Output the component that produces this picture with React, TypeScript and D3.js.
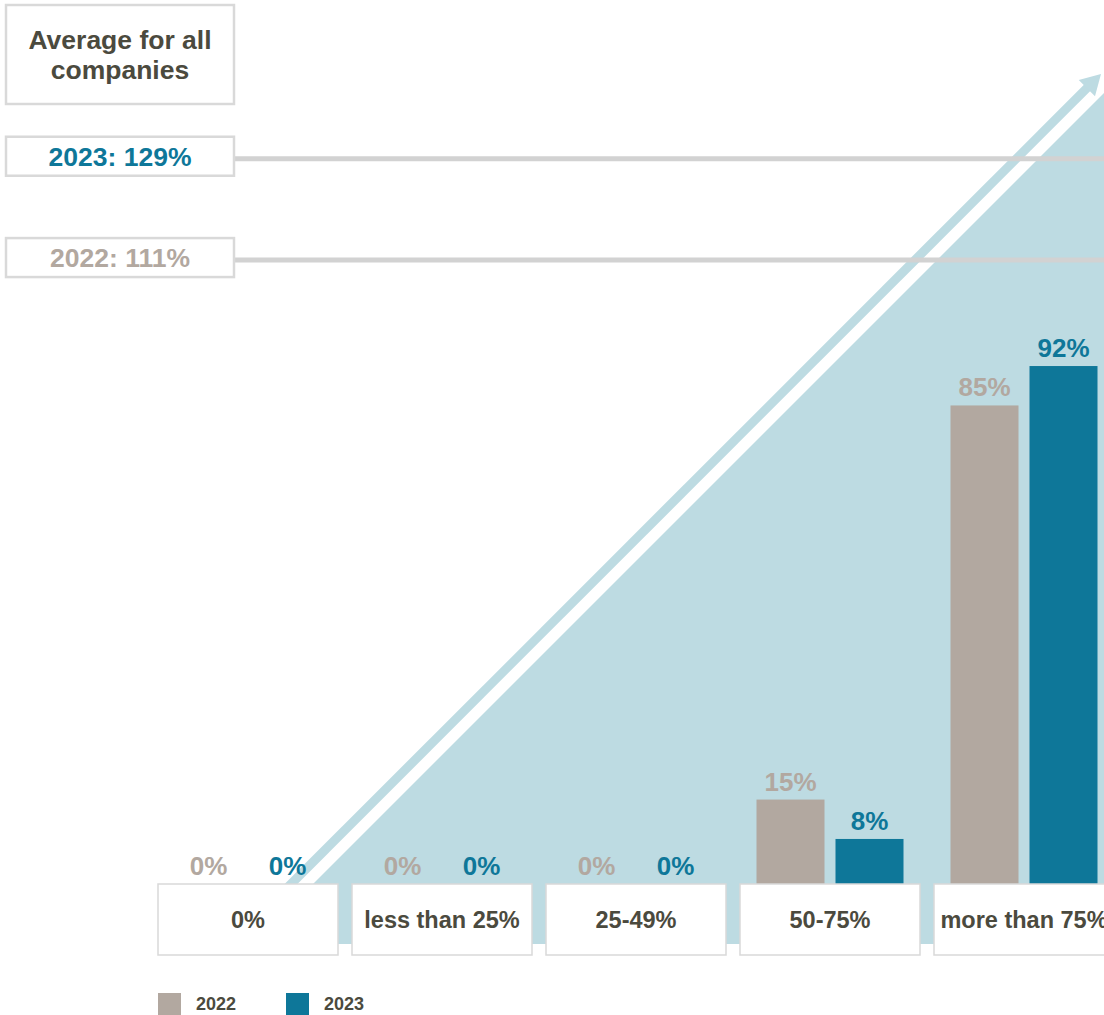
import * as d3 from "d3";

const categories = ["0%", "less than 25%", "25-49%", "50-75%", "more than 75%"];
const years = ["2022", "2023"];
const values2022 = [0, 0, 0, 15, 85];
const values2023 = [0, 0, 0, 8, 92];
const averages = [
  { year: "2023", value: 129 },
  { year: "2022", value: 111 },
];

const W = 1104;
const H = 1015;
const FONT = "'Liberation Sans', Arial, Helvetica, sans-serif";
const DARK = "#4b4a3e";
const GREY = "#b2a8a0";
const TEAL = "#0e7799";
const SKY = "#bddbe2";
const RULE = "#d2d2d2";
const BOX_LINE = "#d9d9d9";

const colorOf: Record<string, string> = { "2022": GREY, "2023": TEAL };

export default function App() {
  const baseY = 884;
  const y = d3.scaleLinear().domain([0, 100]).range([baseY, baseY - 563]);
  const x = d3.scaleBand<string>().domain(categories).range([151, 151 + 194 * categories.length]);
  const inner = d3.scaleBand<string>().domain(years).range([-73.5, 73.5]).paddingInner(11 / 79);
  const center = (c: string) => (x(c) ?? 0) + x.bandwidth() / 2;

  const rows = categories.map((c, i) => ({ cat: c, vals: { "2022": values2022[i], "2023": values2023[i] } as Record<string, number> }));

  // backdrop triangle + arrow along a 45deg diagonal
  const diag = 1197;
  const floor = 944;
  const tri = [
    [diag - floor, floor],
    [W + 100, floor],
    [W + 100, diag - W - 100],
  ];
  const triPath = d3.line()(tri as [number, number][]) + "Z";

  const arrowC = 1175;
  const tipX = 1101;
  const tip: [number, number] = [tipX, arrowC - tipX];
  const startY = 892;
  const start: [number, number] = [arrowC - startY, startY];
  const headLen = 20;
  const headHalf = 11.5;
  const ux = Math.SQRT1_2;
  const uy = -Math.SQRT1_2;
  const base: [number, number] = [tip[0] - ux * headLen, tip[1] - uy * headLen];
  const px = -uy;
  const py = ux;
  const head = [
    tip,
    [base[0] + px * headHalf, base[1] + py * headHalf],
    [base[0] - px * headHalf, base[1] - py * headHalf],
  ] as [number, number][];

  return (
    <svg width={W} height={H} style={{ position: "absolute", left: 0, top: 0, background: "#fff" }} fontFamily={FONT}>
      <path d={triPath} fill={SKY} />
      <line x1={start[0]} y1={start[1]} x2={base[0] + 1} y2={base[1] - 1} stroke={SKY} strokeWidth={9} />
      <path d={d3.line()(head) + "Z"} fill={SKY} />

      {/* average rules */}
      {averages.map((a) => (
        <line key={a.year} x1={234} x2={W} y1={y(a.value) + 1} y2={y(a.value) + 1} stroke={RULE} strokeWidth={5} />
      ))}

      {/* bars */}
      {rows.map((r) =>
        years.map((yr) => {
          const v = r.vals[yr];
          const bx = center(r.cat) + (inner(yr) ?? 0);
          return (
            <g key={r.cat + yr}>
              {v > 0 && <rect x={bx} y={y(v)} width={inner.bandwidth()} height={baseY - y(v)} fill={colorOf[yr]} />}
              <text
                x={bx + inner.bandwidth() / 2}
                y={y(v) - 9}
                textAnchor="middle"
                fontSize={26}
                fontWeight="bold"
                fill={colorOf[yr]}
              >
                {v}%
              </text>
            </g>
          );
        })
      )}

      {/* category boxes */}
      {categories.map((c) => (
        <g key={c}>
          <rect x={center(c) - 90} y={baseY} width={180} height={71} fill="#fff" stroke={BOX_LINE} strokeWidth={1.5} />
          <text x={center(c)} y={919.5} dy="0.36em" textAnchor="middle" fontSize={23.5} fontWeight="bold" fill={DARK}>
            {c}
          </text>
        </g>
      ))}

      {/* left-hand boxes */}
      <rect x={6} y={5} width={228} height={99} fill="#fff" stroke={BOX_LINE} strokeWidth={2.5} />
      <text x={120} textAnchor="middle" fontSize={26.5} fontWeight="bold" fill={DARK}>
        <tspan x={120} y={49}>Average for all</tspan>
        <tspan x={120} y={79}>companies</tspan>
      </text>
      {averages.map((a) => {
        const cy = y(a.value) - 1.5;
        return (
          <g key={a.year}>
            <rect x={6} y={cy - 19.5} width={228} height={39} fill="#fff" stroke={BOX_LINE} strokeWidth={2.5} />
            <text x={120} y={cy} dy="0.36em" textAnchor="middle" fontSize={26.5} fontWeight="bold" fill={colorOf[a.year]}>
              {a.year}: {a.value}%
            </text>
          </g>
        );
      })}

      {/* legend */}
      {years.map((yr, i) => (
        <g key={yr} transform={`translate(${158 + i * 128},993)`}>
          <rect width={23} height={23} fill={colorOf[yr]} />
          <text x={38} y={17} fontSize={18} fontWeight="bold" fill={DARK}>
            {yr}
          </text>
        </g>
      ))}
    </svg>
  );
}
